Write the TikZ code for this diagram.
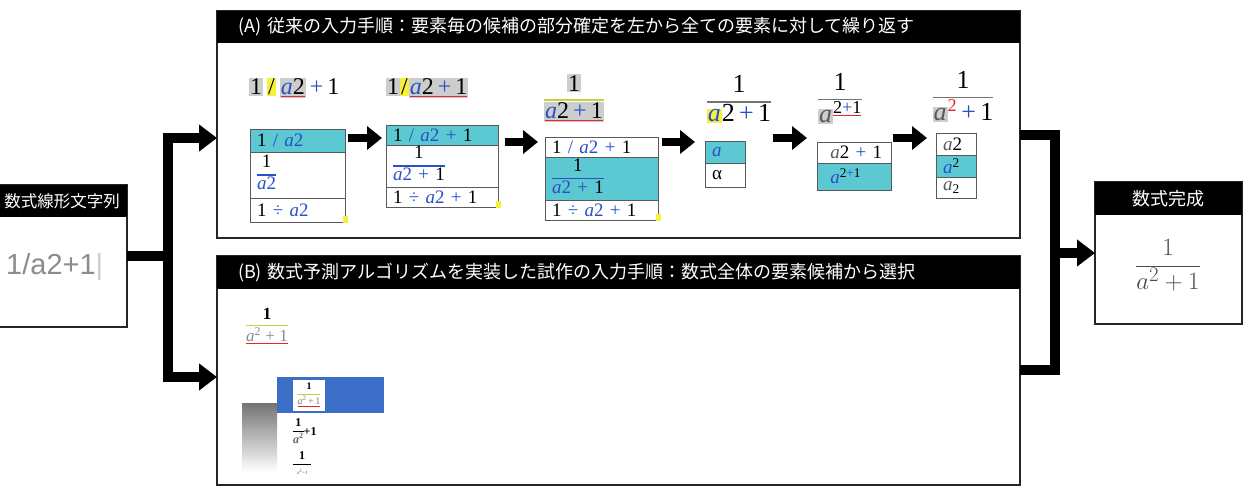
\documentclass[tikz,border=0pt]{standalone}
\usepackage{fontspec}
\newfontfamily\jp{Noto Sans CJK JP}
\newfontfamily\tms{Liberation Serif}
\newfontfamily\ls{Liberation Sans}
\usetikzlibrary{arrows.meta, positioning, calc}
\definecolor{selcyan}{RGB}{92,200,210}
\definecolor{mathblue}{RGB}{40,80,200}
\definecolor{hlgray}{RGB}{205,205,205}
\definecolor{hlyellow}{RGB}{245,240,60}
\definecolor{ulred}{RGB}{225,40,40}
\definecolor{menublue}{RGB}{60,110,200}
\definecolor{barolive}{RGB}{200,210,60}

% bits of the typed formulas
\newcommand\va{\textcolor{mathblue}{\textit{a}}}
\newcommand\ga{\textcolor{black!65}{\textit{a}}}
\newcommand\bl[1]{\textcolor{mathblue}{#1}}
\newcommand\hg[1]{{\setlength\fboxsep{1pt}\colorbox{hlgray}{#1}}}
\newcommand\hy[1]{{\setlength\fboxsep{1pt}\colorbox{hlyellow}{#1}}}
\newsavebox\rubox
\newcommand\ru[1]{\sbox\rubox{#1}\rlap{\textcolor{ulred}{\rule[-2.5pt]{\wd\rubox}{1.2pt}}}\usebox\rubox}
\newcommand\fr[3]{\ensuremath{\vcenter{\offinterlineskip\halign{\hfil##\hfil\cr\strut#2\cr\noalign{\kern1pt}\textcolor{#1}{\leaders\hrule height 1.2pt\hfill}\cr\noalign{\kern1pt}\strut#3\cr}}}}

\begin{document}
\begin{tikzpicture}[x=1pt, y=-1pt,
    panel/.style={draw=black!85, line width=1.5pt, fill=white, outer sep=0pt, inner sep=0pt, anchor=north west},
    titlebar/.style={fill=black, text=white, font=\jp\fontsize{18}{18}\selectfont, minimum height=32pt, inner ysep=0pt, outer sep=0pt, anchor=north west},
    conn/.style={line width=10pt, black},
    bigarrow/.style={conn, -{Triangle[length=18pt, width=26pt]}},
    steparrow/.style={line width=8pt, -{Triangle[length=15pt, width=23pt]}},
    cell/.style={draw=black!65, line width=1pt, fill=white, outer sep=0pt, inner ysep=0pt, inner xsep=7pt, align=left, font=\tms\fontsize{19}{19}\selectfont},
    sel/.style={cell, fill=selcyan},
    expr/.style={inner sep=0pt, font=\tms\fontsize{24}{24}\selectfont}
  ]
  \useasboundingbox (0,0) rectangle (1251,495);

  % boxes
  \node[panel, minimum width=167pt, minimum height=142pt] (linear) at (-40,185) {};
  \node[titlebar, font=\jp\fontsize{16.5}{17}\selectfont, text width=153pt, inner xsep=7pt, align=right] (linearT) at (linear.north west) {数式線形文字列};
  \node[anchor=west, inner sep=0pt, font=\ls\fontsize{29}{30}\selectfont, text=black!45] (lintext) at (6,267) {1/a2+1\textcolor{black!20}{|}};

  \node[panel, minimum width=803pt, minimum height=227pt] (stepsA) at (217,11) {};
  \node[titlebar, text width=761pt, inner xsep=21pt, align=left] (stepsAT) at (stepsA.north west) {(A) 従来の入力手順：要素毎の候補の部分確定を左から全ての要素に対して繰り返す};

  \node[panel, minimum width=803pt, minimum height=229pt] (stepsB) at (217,256) {};
  \node[titlebar, minimum height=33pt, text width=761pt, inner xsep=21pt, align=left] (stepsBT) at (stepsB.north west) {(B) 数式予測アルゴリズムを実装した試作の入力手順：数式全体の要素候補から選択};

  \node[panel, minimum width=147pt, minimum height=142pt] (done) at (1095,182) {};
  \node[titlebar, minimum width=147pt, minimum height=33pt] (doneT) at (done.north west) {数式完成};
  \node[inner sep=0pt, font=\fontsize{28}{32}\selectfont, text=black!70] (doneexpr) at (1168,265) {$\displaystyle\frac{1}{a^2+1}$};

  % (A) step 1
  \node[expr, anchor=west] (e1) at (249,88) {\hg{1}\,\hy{/}\,\hg{\ru{\va2}}\,\bl{+}\,1};
  \node[sel, text width=81pt, minimum height=23pt, anchor=north west] (c11) at (250,129) {1 \bl{/} \va\bl{2}};
  \node[cell, text width=81pt, minimum height=46pt, below=0pt of c11] (c12) {\fr{mathblue}{1}{\va\bl{2}}};
  \node[cell, text width=81pt, minimum height=24pt, below=0pt of c12] (c13) {1 \bl{÷} \va\bl{2}};
  % (A) step 2
  \node[expr, anchor=west] (e2) at (386,88) {\hg{1}\hy{/}\hg{\ru{\va2\,\bl{+}\,1}}};
  \node[sel, text width=98pt, minimum height=20pt, anchor=north west] (c21) at (386,125) {1 \bl{/} \va\bl{2} \bl{+} 1};
  \node[cell, text width=98pt, minimum height=42pt, below=0pt of c21] (c22) {\fr{mathblue}{1}{\va\bl{2} \bl{+} 1}};
  \node[cell, text width=98pt, minimum height=20pt, below=0pt of c22] (c23) {1 \bl{÷} \va\bl{2} \bl{+} 1};
  % (A) step 3
  \node[expr] (e3) at (574,100) {\fr{barolive}{\hg{1}}{\hg{\ru{\va2\,\bl{+}\,1}}}};
  \node[cell, text width=99pt, minimum height=20pt, anchor=north west] (c31) at (545,137) {1 \bl{/} \va\bl{2} \bl{+} 1};
  \node[sel, text width=99pt, minimum height=43pt, below=0pt of c31] (c32) {\fr{mathblue}{1}{\va\bl{2} \bl{+} 1}};
  \node[cell, text width=99pt, minimum height=20pt, below=0pt of c32] (c33) {1 \bl{÷} \va\bl{2} \bl{+} 1};
  % (A) step 4
  \node[expr, font=\tms\fontsize{26}{26}\selectfont] (e4) at (739,102) {\fr{black!55}{1}{\hy{\va}2\,\bl{+}\,1}};
  \node[sel, text width=26pt, minimum height=22pt, anchor=north west] (c41) at (705,141) {\va};
  \node[cell, text width=26pt, minimum height=24pt, below=0pt of c41] (c42) {α};
  % (A) step 5
  \node[expr, font=\tms\fontsize{26}{26}\selectfont] (e5) at (840,101) {\fr{black!55}{1}{\hg{\ga}\textsuperscript{\ru{2\bl{+}1}}}};
  \node[cell, text width=60pt, minimum height=21pt, anchor=north west] (c51) at (817,142) {\ \ga2 \bl{+} 1};
  \node[sel, text width=60pt, minimum height=27pt, below=0pt of c51] (c52) {\ \va\textsuperscript{2\bl{+}1}};
  % (A) step 6
  \node[expr, font=\tms\fontsize{26}{26}\selectfont] (e6) at (963,99) {\fr{black!55}{1}{\hg{\ga}\textsuperscript{\textcolor{ulred}{2}}\,\bl{+}\,1}};
  \node[cell, text width=26pt, minimum height=22pt, anchor=north west] (c61) at (936,133) {\ga2};
  \node[sel, text width=26pt, minimum height=22pt, below=0pt of c61] (c62) {\va\textsuperscript{2}};
  \node[cell, text width=26pt, minimum height=21pt, below=0pt of c62] (c63) {\ga\textsubscript{2}};

  % size handles
  \foreach \c in {c13, c23, c33}
    \fill[hlyellow] ($(\c.south east)+(-2,-6)$) rectangle +(5,7);

  \foreach \a/\b/\y/\s/\t in {c11/c21/138/3pt/4pt, c21/c31/142/7pt/7pt, c31/c41/142/4pt/10pt, c41/c51/138/28pt/10pt, c51/c61/138/2pt/9pt}
    \draw[steparrow, shorten <=\s, shorten >=\t] (\a.east |- 0,\y) -- (\b.west |- 0,\y);

  % (B) prototype
  \node[inner sep=0pt, font=\tms\fontsize{17}{17}\selectfont] (bfrac) at (267,327) {\fr{barolive}{\textbf{1}}{\ru{\textcolor{black!45}{\textit{a}\textsuperscript{2} + 1}}}};
  \shade[top color=black!55, bottom color=white] (242,403) rectangle (277,472);
  \node[fill=menublue, minimum width=107pt, minimum height=36pt, inner sep=0pt, anchor=north west] (menusel) at (277,377) {};
  \node[fill=white, minimum width=32pt, minimum height=31pt, inner sep=0pt, font=\tms\fontsize{10}{10}\selectfont] (menufit) at (309,395) {\fr{barolive}{\textbf{1}}{\ru{\textcolor{black!50}{\textit{a}\textsuperscript{2}\,+\,1}}}};
  \node[anchor=north west, inner sep=0pt, font=\tms\bfseries\fontsize{12}{12}\selectfont] (menutwo) at (293,418) {\fr{black}{1}{\textcolor{black!60}{\textit{a}\textsuperscript{2}}}+1};
  \node[anchor=north west, inner sep=0pt, font=\tms\bfseries\fontsize{12}{12}\selectfont] (menuthree) at (293,451) {\fr{black}{\ \ 1\ \ }{\tiny\textcolor{black!40}{\textit{a}\textsuperscript{2}+1}}};

  % connectors
  \coordinate (forkL) at (linear.east -| 168,0);
  \coordinate (inA) at (stepsA.west |- 0,138);
  \coordinate (inB) at (stepsB.west |- 0,377);
  \draw[conn] (linear.east) -- (forkL);
  \draw[bigarrow] (forkL) |- (inA);
  \draw[bigarrow] (forkL) |- (inB);

  \coordinate (outA) at (stepsA.east |- 0,135);
  \coordinate (outB) at (stepsB.east |- 0,370);
  \coordinate (forkR) at (done.west -| 1055,0);
  \draw[conn] (outA) -| (forkR) |- (outB);
  \draw[bigarrow] (forkR) -- (done.west);
\end{tikzpicture}
\end{document}
